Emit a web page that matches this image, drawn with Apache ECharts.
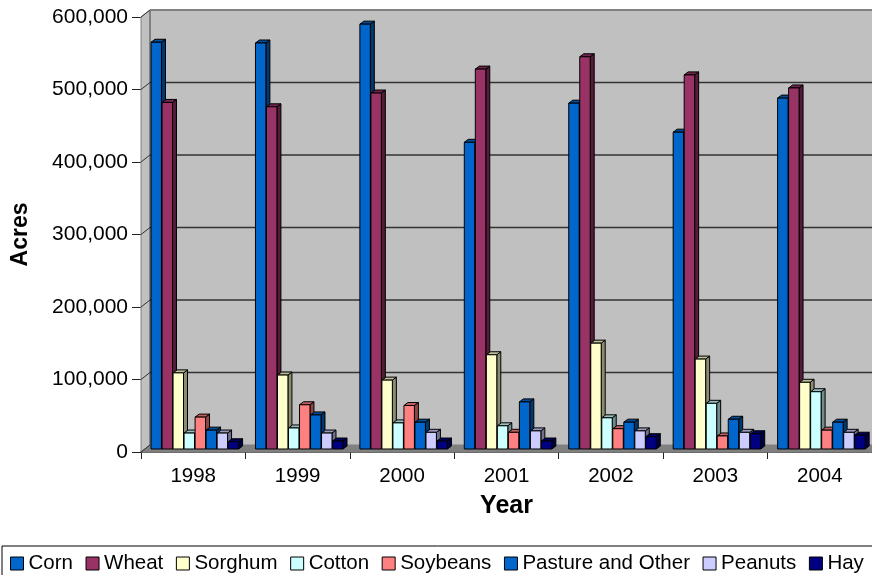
<!DOCTYPE html>
<html><head><meta charset="utf-8">
<script src="https://cdn.jsdelivr.net/npm/echarts@6/dist/echarts.min.js"></script>
<style>html,body{margin:0;padding:0;background:#fff;overflow:hidden}#c{width:872px;height:575px}</style></head>
<body><div id="c"></div>
<script>
const years = ['1998','1999','2000','2001','2002','2003','2004'];
const yTicks = [0,100000,200000,300000,400000,500000,600000];
const corn    = [561000,560000,586000,423000,477000,437000,484000];
const wheat   = [478000,472000,491000,524000,541000,516000,498000];
const sorghum = [105000,102000,95000,130000,146000,124000,92000];
const cotton  = [22000,29000,36000,32000,43000,63000,79000];
const soybeans= [44000,61000,60000,23000,28000,18000,26000];
const pasture = [26000,47000,37000,65000,37000,41000,37000];
const peanuts = [22000,22000,23000,25000,25000,23000,23000];
const hay     = [10000,11000,11000,11000,17000,21000,19000];
const seriesDefs = [
  ['Corn',corn,'#0066cc'],['Wheat',wheat,'#993366'],['Sorghum',sorghum,'#ffffcc'],
  ['Cotton',cotton,'#ccffff'],['Soybeans',soybeans,'#ff8080'],['Pasture and Other',pasture,'#0066cc'],
  ['Peanuts',peanuts,'#ccccff'],['Hay',hay,'#000080']];
const DX = 9, DY = 7, BDX = 4, BDY = 3, BASE = 3;
function shade(hex,f){const n=parseInt(hex.slice(1),16);
  return 'rgb('+[(n>>16)&255,(n>>8)&255,n&255].map(v=>Math.round(v*f)).join(',')+')';}
function poly(points,fill,stroke,lw){return {type:'polygon',silent:true,shape:{points},style:{fill,stroke,lineWidth:lw===undefined?1:lw}};}
function line(x1,y1,x2,y2,stroke,lw){return {type:'line',silent:true,shape:{x1,y1,x2,y2},style:{stroke,lineWidth:lw}};}
function renderWalls(params,api){
  const r=params.coordSys, L=r.x, R=r.x+r.width, T=r.y, B=r.y+r.height;
  const ch=[
    poly([[L+DX,T-DY],[R+DX,T-DY],[R+DX,B-DY],[L+DX,B-DY]],'#c0c0c0','none',0),
    poly([[L,T],[L+DX,T-DY],[L+DX,B-DY],[L,B]],'#c0c0c0','#808080',1),
    poly([[L,B],[L+DX,B-DY],[R+DX,B-DY],[R,B]],'#808080','#808080',1),
    line(L+DX,T-DY,R+DX,T-DY,'#808080',2),
    line(L+DX,T-DY,L+DX,B-DY,'#808080',2)
  ];
  yTicks.forEach(v=>{
    const p=api.coord([0,v])[1];
    if(v>0&&v<yTicks[yTicks.length-1]) ch.push(line(L+DX,p-DY,R+DX,p-DY,'#333',1.3));
    ch.push(line(L,p,L+DX,p-DY,'#333',1));
  });
  return {type:'group',children:ch};
}
function renderBar(si,color){return function(params,api){
  const c=api.coord([api.value(0),api.value(1)]), z=api.coord([api.value(0),0]);
  const band=api.size([1,0])[0], left=c[0]-band/2;
  const pitch=band*0.1055, w=band*0.1;
  const x0=left+band*0.096+si*pitch, x1=x0+w, yT=c[1]-BASE, yB=z[1]-BASE;
  return {type:'group',children:[
    poly([[x1,yT],[x1+BDX,yT-BDY],[x1+BDX,yB-BDY],[x1,yB]],shade(color,0.55),'#000',1),
    poly([[x0,yT],[x0+BDX,yT-BDY],[x1+BDX,yT-BDY],[x1,yT]],shade(color,0.75),'#000',1),
    poly([[x0,yT],[x1,yT],[x1,yB],[x0,yB]],color,'#000',1)
  ]};
};}
const font='"Liberation Sans",Arial,sans-serif';
const chart=echarts.init(document.getElementById('c'),null,{renderer:'canvas'});
chart.setOption({
  animation:false,
  backgroundColor:'#fff',
  grid:{left:141,right:0,top:17,bottom:123,containLabel:false},
  xAxis:{type:'category',data:years,
    name:'Year',nameLocation:'middle',nameGap:42,
    nameTextStyle:{fontFamily:font,fontSize:25,fontWeight:'bold',color:'#000'},
    axisLine:{show:true,lineStyle:{color:'#222',width:1.5}},
    axisTick:{show:true,length:7,alignWithLabel:false,lineStyle:{color:'#222'}},
    axisLabel:{fontFamily:font,fontSize:20.5,color:'#000',margin:14},
    splitLine:{show:false}},
  yAxis:{type:'value',min:0,max:600000,interval:100000,
    name:'Acres',nameLocation:'middle',nameGap:109,nameRotate:90,
    nameTextStyle:{fontFamily:font,fontSize:23,fontWeight:'bold',color:'#000'},
    axisLine:{show:true,lineStyle:{color:'#222',width:1}},
    axisTick:{show:true,length:9,lineStyle:{color:'#222'}},
    axisLabel:{fontFamily:font,fontSize:21,color:'#000',margin:13,
      formatter:v=>v.toLocaleString('en-US')},
    splitLine:{show:false}},
  legend:{left:2,top:546,width:900,padding:[7,30,20,8],itemGap:12.6,itemWidth:13,itemHeight:13,
    borderColor:'#000',borderWidth:1,backgroundColor:'#fff',
    icon:'rect',
    data:seriesDefs.map(d=>d[0]),
    textStyle:{fontFamily:font,fontSize:20.5,color:'#000'},
    itemStyle:{borderColor:'#000',borderWidth:1}},
  series:[
    {type:'custom',name:'walls',silent:true,z:1,clip:false,data:[[0,0]],
     encode:{x:0,y:1},renderItem:renderWalls,legendHoverLink:false},
    ...seriesDefs.map((d,si)=>({
      type:'custom',name:d[0],z:2+si,clip:false,silent:true,
      itemStyle:{color:d[2],borderColor:'#000',borderWidth:1},
      encode:{x:0,y:1},
      data:d[1].map((v,i)=>[i,v]),
      renderItem:renderBar(si,d[2])
    }))
  ]
});
</script></body></html>
